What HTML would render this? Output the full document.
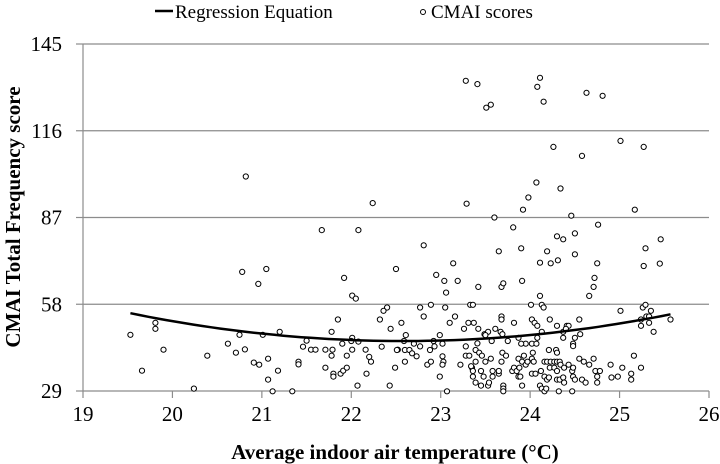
<!DOCTYPE html>
<html><head><meta charset="utf-8"><style>
body{margin:0;background:#fff;}
svg{display:block;}
text{font-family:"Liberation Serif","Times New Roman",serif;}
</style></head><body>
<svg id="chart" width="720" height="464" viewBox="0 0 720 464" font-family="Liberation Serif, serif">
<g id="grid"></g>
<g id="axes"></g>
<g id="pts"></g>
<g id="reg"></g>
<g>
<line x1="155" y1="11" x2="173" y2="11" stroke="#000" stroke-width="2.5"/>
<text x="175" y="18" font-size="19" font-family="Liberation Serif, serif">Regression Equation</text>
<circle cx="423" cy="12" r="2.5" fill="#fff" stroke="#000"/>
<text x="431" y="18" font-size="19" font-family="Liberation Serif, serif">CMAI scores</text>
</g>
<text x="395" y="459" font-size="21" font-weight="bold" text-anchor="middle" font-family="Liberation Serif, serif">Average indoor air temperature (°C)</text>
<text transform="translate(20,217) rotate(-90)" font-size="21" font-weight="bold" text-anchor="middle" font-family="Liberation Serif, serif">CMAI Total Frequency score</text>
</svg>
<script>
const xTicks=[19,20,21,22,23,24,25,26];
const yTicks=[29,58,87,116,145];
const temps=[20.82,22.24,21.67,22.08,20.78,21.05,20.96,21.92,22.5,22.01,22.05,22.4,22.36,22.32,22.44,21.85,19.53,19.81,19.81,19.66,19.9,20.24,20.39,20.62,20.71,20.75,20.81,20.91,20.97,21.01,21.07,21.07,21.12,21.18,21.2,21.34,21.41,21.41,21.46,21.5,21.55,21.6,21.71,21.71,21.78,21.79,21.78,21.8,21.8,21.88,21.91,21.95,21.9,21.95,22.01,22.0,22.01,22.08,22.07,22.16,22.2,22.22,22.17,22.34,22.43,22.49,22.52,
23.28,23.41,23.51,23.56,24.11,24.08,24.15,24.63,24.81,25.01,25.27,24.26,24.58,24.07,24.34,23.98,23.92,23.29,25.17,23.6,24.46,23.81,24.76,22.81,24.3,24.37,24.5,25.46,25.29,23.65,23.9,24.19,24.5,23.14,24.11,24.23,24.31,24.75,25.27,25.45,22.95,23.04,23.19,23.06,23.42,23.68,23.7,23.91,24.11,24.72,24.71,24.66,
22.77,22.89,23.05,23.33,23.36,24.01,24.13,24.15,25.01,25.26,25.29,25.35,25.24,25.3,25.33,25.57,25.24,25.33,25.38,22.56,22.81,23.16,23.1,23.31,23.37,23.26,23.42,23.49,23.53,23.61,23.67,23.68,23.68,23.82,24.02,24.05,24.08,24.22,24.3,24.41,24.43,24.55,24.13,24.37,24.4,24.56,24.5,24.48,24.48,24.37,24.08,23.87,23.75,23.95,24.02,24.07,23.9,23.69,23.57,23.5,
22.59,22.61,22.51,22.6,22.65,22.68,22.73,22.7,22.77,22.6,22.88,22.92,22.93,22.99,23.02,22.85,22.89,23.02,23.03,23.02,22.99,23.07,23.22,23.28,23.28,23.32,23.41,23.39,23.43,23.46,23.35,23.36,23.34,23.39,23.5,23.56,23.45,23.48,23.36,23.39,23.45,23.53,23.54,23.58,23.58,23.65,23.65,23.68,23.69,23.73,23.7,23.7,23.7,23.8,23.82,23.85,23.88,23.87,23.91,23.93,23.95,23.97,23.87,23.89,23.91,24.02,24.04,24.03,24.02,24.06,24.12,24.16,24.11,24.13,24.16,24.18,24.19,24.21,24.16,24.19,24.23,24.27,24.3,24.33,24.21,24.29,24.3,24.22,24.27,24.3,24.33,24.37,24.38,24.32,24.3,24.34,24.38,24.43,24.47,24.48,24.5,24.48,24.47,24.55,24.6,24.66,24.71,24.58,24.62,24.73,24.78,24.75,24.75,24.9,24.91,24.98,25.03,25.13,25.13,25.16,25.24];
const scores=[100.7,91.8,82.8,82.8,68.8,69.8,64.8,66.8,69.8,60.9,59.9,56.9,55.8,52.9,49.8,52.9,47.8,51.8,49.8,35.8,42.8,29.8,40.8,44.8,41.8,47.8,42.9,38.5,37.8,47.8,39.8,32.8,28.9,35.8,48.8,28.9,38.8,37.9,43.8,45.8,42.8,42.8,42.8,36.8,48.8,42.8,40.8,34.8,33.8,34.8,35.8,36.8,44.8,40.8,46.8,45.7,42.8,45.5,30.8,42.8,40.4,38.8,34.8,43.8,30.8,36.8,42.8,
132.7,131.6,123.7,124.7,133.7,130.7,125.7,128.7,127.7,112.6,110.6,110.6,107.6,98.7,96.7,93.7,89.6,91.6,89.6,87.0,87.6,83.7,84.6,77.7,80.7,79.7,81.7,79.7,76.7,75.7,76.7,75.7,74.7,71.7,71.9,71.7,72.7,71.7,70.8,71.6,67.8,65.8,65.8,61.9,63.8,63.8,65.0,65.8,60.8,66.8,63.8,60.8,
56.9,57.8,56.9,57.8,57.8,57.8,57.8,56.9,55.8,56.9,57.8,55.8,52.9,53.9,53.9,52.9,50.8,51.8,48.8,51.8,53.9,53.9,51.8,51.8,51.8,49.8,49.8,48.0,48.8,49.8,48.8,53.9,52.9,51.8,52.9,51.8,50.8,52.9,50.8,50.8,50.8,52.9,48.8,48.8,49.8,48.0,46.8,44.8,44.0,46.8,46.8,46.8,45.7,44.8,44.8,44.8,44.8,48.0,45.7,47.7,
45.7,47.7,42.7,42.7,42.7,41.6,40.6,44.8,43.9,38.8,42.7,45.7,43.9,47.7,44.8,37.8,38.8,40.6,38.8,37.8,33.8,28.9,37.8,43.9,40.8,40.8,44.9,42.7,41.8,40.8,36.8,35.7,37.3,38.8,38.8,39.8,35.7,33.8,33.8,31.8,30.8,30.8,31.8,35.7,33.8,34.8,35.7,38.8,41.8,40.8,30.8,29.8,28.9,35.7,36.8,35.7,36.8,39.8,38.8,40.8,37.8,38.8,33.8,33.8,30.8,39.8,38.8,41.8,34.8,34.8,35.7,33.8,30.8,29.8,28.9,29.8,32.8,33.5,38.8,38.8,38.8,38.8,38.8,38.8,42.7,42.7,41.8,36.8,36.8,32.8,32.8,33.5,31.8,28.9,35.7,37.8,36.8,37.8,35.7,33.8,32.8,36.8,28.9,39.8,38.8,37.8,39.8,32.8,31.8,35.7,35.7,33.8,31.8,37.8,33.5,33.8,36.8,32.8,34.8,40.8,36.8];
const regCoef=[45.7,0,1.0]; // v = c0 + c1*(t-22.58) + c2*(t-22.58)^2
const regRange=[19.53,25.57];
const X0=83,X1=709,Y0=391,Y1=44;
const xs=t=>X0+(t-19)/(26-19)*(X1-X0);
const ys=v=>Y0-(v-29)/(145-29)*(Y0-Y1);
const NS="http://www.w3.org/2000/svg";
const FF="Liberation Serif, serif";
function mk(tag,attrs,parent){const e=document.createElementNS(NS,tag);for(const k in attrs)e.setAttribute(k,attrs[k]);parent.appendChild(e);return e;}
const grid=document.getElementById('grid'),axes=document.getElementById('axes'),pts=document.getElementById('pts'),reg=document.getElementById('reg');
yTicks.forEach(v=>{
  if(v!==29){const g=mk('line',{x1:X0,x2:X1,y1:ys(v),y2:ys(v),stroke:'#8c8c8c','stroke-width':1.2},grid);
  
  }
  const tk=mk('line',{x1:X0-7,x2:X0,y1:ys(v),y2:ys(v),stroke:'#8c8c8c','stroke-width':1.2},axes);
  
  
  const t=mk('text',{x:62,y:ys(v)+7,'font-size':21,'text-anchor':'end','font-family':FF},axes);t.textContent=v;
  
  
});
const ya=mk('line',{x1:X0,x2:X0,y1:Y1,y2:Y0,stroke:'#8c8c8c','stroke-width':1.2},axes);


const xa=mk('line',{x1:X0,x2:X1,y1:Y0,y2:Y0,stroke:'#8c8c8c','stroke-width':1.2},axes);


xTicks.forEach(v=>{
  const tk=mk('line',{x1:xs(v),x2:xs(v),y1:Y0,y2:Y0+7,stroke:'#8c8c8c','stroke-width':1.2},axes);
  
  
  const t=mk('text',{x:xs(v),y:421,'font-size':21,'text-anchor':'middle','font-family':FF},axes);t.textContent=v;
  
  
});
temps.forEach((t,i)=>{
  const c=mk('circle',{cx:xs(t).toFixed(1),cy:ys(scores[i]).toFixed(1),r:2.6,fill:'#fff',stroke:'#000','stroke-width':1},pts);
  
  
});
let d='';
for(let i=0;i<=60;i++){const t=regRange[0]+(regRange[1]-regRange[0])*i/60;const v=regCoef[0]+regCoef[1]*(t-22.58)+regCoef[2]*(t-22.58)*(t-22.58);d+=(i?'L':'M')+xs(t).toFixed(1)+','+ys(v).toFixed(1);}
const p=mk('path',{d:d,fill:'none',stroke:'#000','stroke-width':2.5},reg);


</script>
</body></html>
